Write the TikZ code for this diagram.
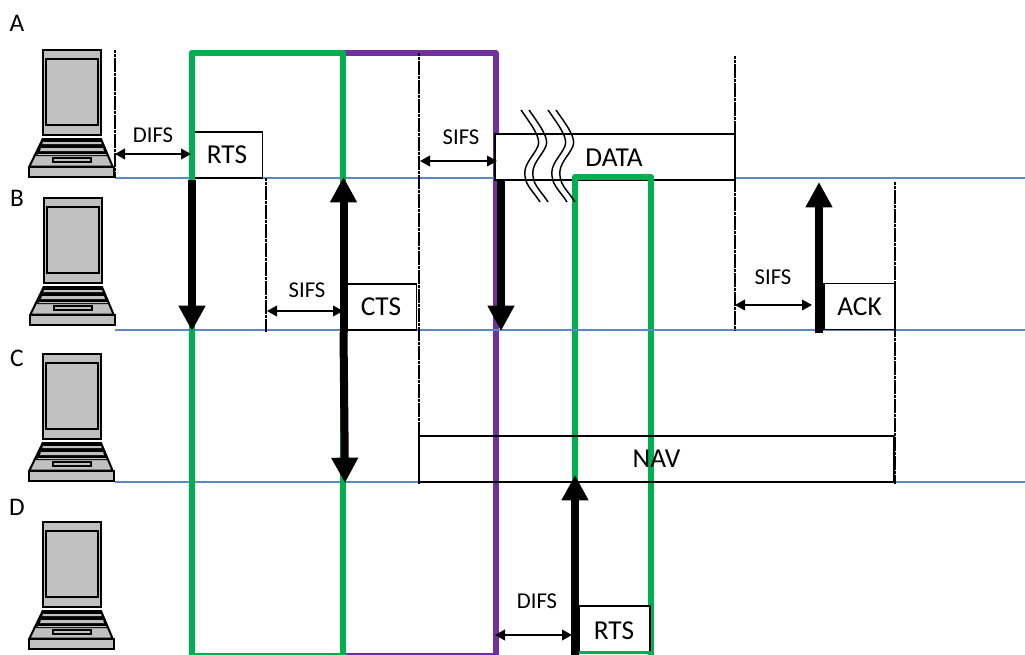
\documentclass[tikz,border=0pt]{standalone}
\usepackage{fontspec}
\setmainfont{Carlito}
\usetikzlibrary{arrows.meta}
\definecolor{wifigreen}{HTML}{00B050}
\definecolor{wifipurple}{HTML}{7030A0}
\definecolor{wifiblue}{HTML}{5B88C6}
\definecolor{laptopgrey}{HTML}{C0C0C0}
\tikzset{
	frame/.style={draw=black, fill=white, line width=1.2pt, inner sep=0pt, minimum width=53.25pt, minimum height=34.5pt, font=\fontsize{20.5}{20}\selectfont},
	gap/.style={font=\fontsize{17}{17}\selectfont, inner sep=0pt},
	station/.style={font=\fontsize{19}{20}\selectfont, inner sep=0pt},
	medium/.style={wifiblue, line width=1.2pt},
	boundary/.style={black, line width=1.2pt, dash pattern=on 2.5pt off 0.35pt},
	nav green/.style={wifigreen, line width=4.5pt, line join=round},
	nav purple/.style={wifipurple, line width=4.5pt, line join=round},
	send/.style={black, line width=6pt, -{Triangle[width=19pt,length=19pt]}},
	span/.style={black, line width=1.4pt, {Triangle[width=8pt,length=7.5pt]}-{Triangle[width=8pt,length=7.5pt]}},
	wave/.style={black, line width=1.1pt},
	laptop/.pic={
		\begin{scope}[draw=black, fill=laptopgrey, line width=1.5pt]
		\filldraw (42.7,50) rectangle (101,135);
		\filldraw (46,59) rectangle (98,125);
		\filldraw (42.7,139) -- (101,139) -- (112.7,166.7) -- (29.3,166.7) -- cycle;
		\fill[black] (42.7,139) -- (101,139) -- (108,156) -- (36,156) -- cycle;
		\fill[laptopgrey] (43,142) -- (101,142) -- (101.6,144) -- (42.4,144) -- cycle;
		\fill[laptopgrey] (41,148) -- (103,148) -- (104,151) -- (40,151) -- cycle;
		\fill[laptopgrey] (38,154) -- (106,154) -- (106.5,155.2) -- (37.5,155.2) -- cycle;
		\filldraw (29.3,166.7) rectangle (113.5,177.3);
		\filldraw (53,157.5) rectangle (90.5,161.5);
		\end{scope}
	}
}

\begin{document}
\begin{tikzpicture}[x=0.75pt,y=-0.75pt]
\useasboundingbox (0,0) rectangle (1025,654);

\coordinate (lineA) at (115,178);  \coordinate (lineAend) at (1025,178);
\coordinate (lineB) at (115,330);  \coordinate (lineBend) at (1025,330);
\coordinate (lineC) at (115,482);  \coordinate (lineCend) at (1025,482);

\pic at (0,0) {laptop};
\pic at (1,148) {laptop};
\pic at (0,304) {laptop};
\pic at (0,472) {laptop};

\node[station] (stationA) at (17,23) {A};
\node[station] (stationB) at (17,198) {B};
\node[station] (stationC) at (17,358) {C};
\node[station] (stationD) at (17,507) {D};

%medium busy periods
\draw[nav purple] (343,53) -- (495.5,53) -- (495.5,656) -- (343,656);
\draw[medium] (lineA) -- (lineAend);

\node[frame, minimum width=180pt] (data) at (615,157) {};
\draw[nav green] (575,656) -- (575,177) -- (651,177) -- (651,656);
\draw[medium] (lineB) -- (lineBend);
\draw[medium] (lineC) -- (lineCend);
\node[frame] (rtsA) at (227,155) {RTS};
\draw[nav green] (191.5,656) -- (191.5,53) -- (343,53) -- (343,656) -- cycle;

%slot boundaries
\draw[boundary] (115,50) -- (lineA);
\draw[boundary] (266,178) -- (266,332);
\draw[boundary] (419,53) -- (419,484);
\draw[boundary] (735,56) -- (735,330);
\draw[boundary] (895,182) -- (895,484);

\node[frame] (cts) at (381,307) {CTS};
\node[frame] (ack) at (859.5,306.5) {ACK};
\node[frame] (rtsD) at (614.5,629) {};
\draw[wifigreen, line width=2.25pt] (rtsD.south west) -- (rtsD.south east);
\node[font=\fontsize{20.5}{20}\selectfont, inner sep=0pt] (rtsDtext) at (614,631) {RTS};
\node[font=\fontsize{20.5}{20}\selectfont, inner sep=0pt] (datatext) at (614,158) {DATA};
\node[frame, fill=none, minimum width=356.25pt] (nav) at (656.5,459) {NAV};

\coordinate (sendA) at (192,180);   \coordinate (recvB) at (192,331);
\coordinate (sendB) at (343.5,332); \coordinate (recvA) at (343.5,177);
\coordinate (recvC) at (345,483);
\coordinate (sendData) at (501,180); \coordinate (recvData) at (501,331);
\coordinate (sendAck) at (819,333);  \coordinate (recvAck) at (819,182);
\coordinate (sendD) at (575,655);    \coordinate (recvD) at (575,475);
\draw[send] (sendA) -- (recvB);
\draw[send] (sendB) -- (recvA);
\draw[send] (sendB) -- (recvC);
\draw[send] (sendData) -- (recvData);
\draw[send] (sendAck) -- (recvAck);
\draw[send] (sendD) -- (recvD);

\coordinate (difsAl) at (115,154);  \coordinate (difsAr) at (191,154);
\coordinate (sifsBl) at (267,311);  \coordinate (sifsBr) at (343,311);
\coordinate (sifsAl) at (420,161);  \coordinate (sifsAr) at (497,161);
\coordinate (sifsCl) at (735,305);  \coordinate (sifsCr) at (812,305);
\coordinate (difsDl) at (495,635);  \coordinate (difsDr) at (572,635);
\draw[span] (difsAl) -- (difsAr);
\draw[span] (sifsBl) -- (sifsBr);
\draw[span] (sifsAl) -- (sifsAr);
\draw[span] (sifsCl) -- (sifsCr);
\draw[span] (difsDl) -- (difsDr);

\node[gap] (difsA) at (153,135) {DIFS};
\node[gap] (sifsB) at (307,290) {SIFS};
\node[gap] (sifsA) at (461,137) {SIFS};
\node[gap] (sifsC) at (773,277) {SIFS};
\node[gap] (difsD) at (537,601) {DIFS};

\foreach \dx in {0,8,27,35}{
	\draw[wave, xshift=\dx*0.75pt] (521,110) .. controls (533,127) and (541,138) .. (538,146) .. controls (534,156) and (523,164) .. (525,176) .. controls (526,186) and (533,191) .. (540,202);
}
\end{tikzpicture}
\end{document}
